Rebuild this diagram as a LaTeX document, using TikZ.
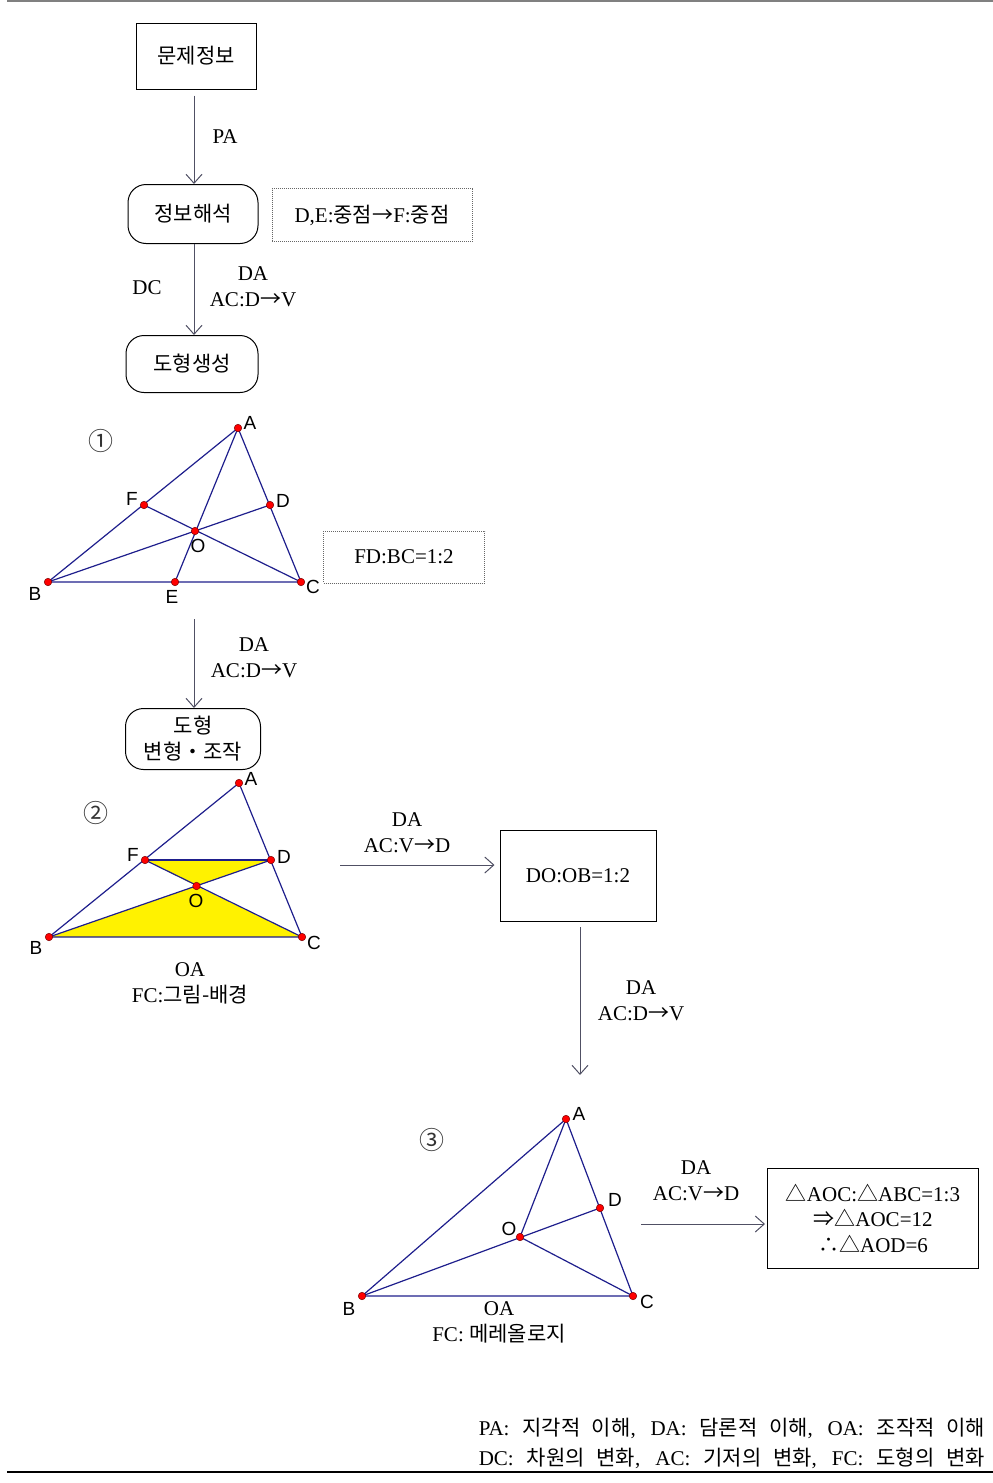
\documentclass[tikz,border=0pt]{standalone}
\usepackage{fontspec}
\setmainfont{Liberation Serif}
\newfontfamily\kr{Noto Sans CJK KR}
\newfontfamily\arial{Liberation Sans}
\newfontfamily\dv{DejaVu Sans}
\usetikzlibrary{arrows.meta}
\definecolor{navy}{RGB}{30,30,140}
\definecolor{agray}{RGB}{80,80,100}
\definecolor{dred}{RGB}{120,0,0}
\newcommand{\sy}[1]{{\kr #1}}
\newcommand{\ar}{{\kr →}}
\begin{document}
\begin{tikzpicture}[x=1pt,y=-1pt,
 txt/.style={font=\fontsize{21}{26}\selectfont, inner sep=0pt, align=center},
 box/.style={draw, line width=1pt, inner sep=0pt, align=center, font=\fontsize{21}{26}\selectfont},
 rbox/.style={box, rounded corners=18pt},
 dbox/.style={box, draw=gray!80!black, dash pattern=on 1pt off 1pt},
 arr/.style={draw=agray, line width=1pt, -{Straight Barb[length=9pt,width=16pt,line width=1pt]}},
 tri/.style={draw=navy, line width=1.2pt},
 pt/.style={circle, fill=red, draw=dred, line width=0.5pt, inner sep=0pt, minimum size=7.5pt},
 pl/.style={font=\arial\fontsize{19}{22}\selectfont, inner sep=0pt},
 num/.style={font=\kr\fontsize{25}{27}\selectfont, inner sep=0pt, text=black!80},
]
\useasboundingbox (0,0) rectangle (993,1483);
\draw[gray, line width=2pt] (7,1) -- (993,1);
\draw[line width=1.5pt] (7,1472) -- (993,1472);

\coordinate (ax) at (194,0);
% flow boxes
\node[box, minimum width=120pt, minimum height=66pt] (b1) at (196,56) {\kr 문제정보};
\node[rbox, minimum width=130pt, minimum height=59pt] (b2) at (193,214) {\kr 정보해석};
\node[dbox, minimum width=200pt, minimum height=53pt] (n1) at (372,215) {D,E:{\kr 중점}\ar F:{\kr 중점}};
\node[rbox, minimum width=132pt, minimum height=57pt] (b3) at (192,364) {\kr 도형생성};

\draw[arr] ([yshift=-6pt]b1.south -| ax) -- (b2.north -| ax);
\node[txt] (lPA) at (225,137) {PA};
\draw[arr] (b2.south -| ax) -- (b3.north -| ax);
\node[txt] (lDC) at (147,288) {DC};
\node[txt] (l2) at (253,287) {DA\\AC:D\ar V};

% triangle 1
\coordinate (A1) at (238,428);
\coordinate (B1) at (48,582);
\coordinate (C1) at (301,582);
\coordinate (D1) at (270,505);
\coordinate (E1) at (175,582);
\coordinate (F1) at (144,505);
\coordinate (O1) at (195,531);
\draw[tri] (A1) -- (B1) -- (C1) -- cycle;
\draw[tri] (A1) -- (E1);
\draw[tri] (B1) -- (D1);
\draw[tri] (C1) -- (F1);
\foreach \p in {A1,B1,C1,D1,E1,F1,O1} \node[pt] (p\p) at (\p) {};
\node[pl] (tA1) at (250,423) {A};
\node[pl] (tF1) at (132,499) {F};
\node[pl] (tD1) at (283,501) {D};
\node[pl] (tO1) at (198,546) {O};
\node[pl] (tB1) at (35,594) {B};
\node[pl] (tE1) at (172,597) {E};
\node[pl] (tC1) at (313,587) {C};
\node[num] (c1) at (101,441) {①};
\node[dbox, minimum width=161pt, minimum height=52pt] (n2) at (404,557) {FD:BC=1:2};

\coordinate (s3) at (194,619);
\node[rbox, minimum width=135pt, minimum height=61pt] (b4) at (193,739) {{\kr 도형}\\{\kr 변형・조작}};
\draw[arr] (s3) -- (b4.north -| s3);
\node[txt] (l3) at (254,658) {DA\\AC:D\ar V};

% triangle 2
\coordinate (A2) at (239,783);
\coordinate (B2) at (49,937);
\coordinate (C2) at (302,937);
\coordinate (D2) at (271,860);
\coordinate (F2) at (145,860);
\coordinate (O2) at (196.5,886);
\fill[yellow] (F2) -- (D2) -- (O2) -- cycle;
\fill[yellow] (B2) -- (C2) -- (O2) -- cycle;
\draw[tri] (A2) -- (B2) -- (C2) -- cycle;
\draw[tri] (F2) -- (D2);
\draw[tri] (B2) -- (D2);
\draw[tri] (C2) -- (F2);
\foreach \p in {A2,B2,C2,D2,F2,O2} \node[pt] (p\p) at (\p) {};
\node[pl] (tA2) at (251,779) {A};
\node[pl] (tF2) at (133,855) {F};
\node[pl] (tD2) at (284,857) {D};
\node[pl] (tO2) at (196,901) {O};
\node[pl] (tB2) at (36,948) {B};
\node[pl] (tC2) at (314,943) {C};
\node[num] (c2) at (96,813) {②};
\node[txt] (l4) at (190,983) {OA\\FC:{\kr 그림-배경}};

\coordinate (s5) at (340,865);
\node[box, minimum width=156pt, minimum height=91pt] (b5) at (578,876) {DO:OB=1:2};
\draw[arr, shorten >=5pt] (s5) -- (b5.west |- s5);
\node[txt] (l5) at (407,833) {DA\\AC:V\ar D};

\coordinate (e6) at (580,1075);
\draw[arr] ([yshift=-5pt]b5.south -| e6) -- (e6);
\node[txt] (l6) at (641,1001) {DA\\AC:D\ar V};

% triangle 3
\coordinate (A3) at (566,1119);
\coordinate (B3) at (362,1296);
\coordinate (C3) at (633,1296);
\coordinate (D3) at (600,1208);
\coordinate (O3) at (520,1237);
\draw[tri] (A3) -- (B3) -- (C3) -- cycle;
\draw[tri] (A3) -- (O3);
\draw[tri] (B3) -- (D3);
\draw[tri] (O3) -- (C3);
\foreach \p in {A3,B3,C3,D3,O3} \node[pt] (p\p) at (\p) {};
\node[pl] (tA3) at (579,1114) {A};
\node[pl] (tD3) at (615,1200) {D};
\node[pl] (tO3) at (509,1229) {O};
\node[pl] (tB3) at (349,1309) {B};
\node[pl] (tC3) at (647,1302) {C};
\node[num] (c3) at (432,1140) {③};
\node[txt] (l7) at (499,1322) {OA\\FC: {\kr 메레올로지}};

\coordinate (s8) at (641,1224);
\node[box, minimum width=211pt, minimum height=100pt, font=\fontsize{21}{25.5}\selectfont] (b6) at (873,1218)
 {\sy{△}AOC:\sy{△}ABC=1:3\\\sy{⇒}\sy{△}AOC=12\\\sy{∴}\sy{△}AOD=6};
\draw[arr, shorten >=2pt] (s8) -- (b6.west |- s8);
\node[txt] (l8) at (696,1181) {DA\\AC:V\ar D};

% legend
\node[txt, anchor=east] (g1) at (985,1428) {\makebox[506pt][s]{PA: {\kr 지각적 이해}, DA: {\kr 담론적 이해}, OA: {\kr 조작적 이해}}};
\node[txt, anchor=east] (g2) at (985,1458) {\makebox[506pt][s]{DC: {\kr 차원의 변화}, AC: {\kr 기저의 변화}, FC: {\kr 도형의 변화}}};
\end{tikzpicture}
\end{document}
